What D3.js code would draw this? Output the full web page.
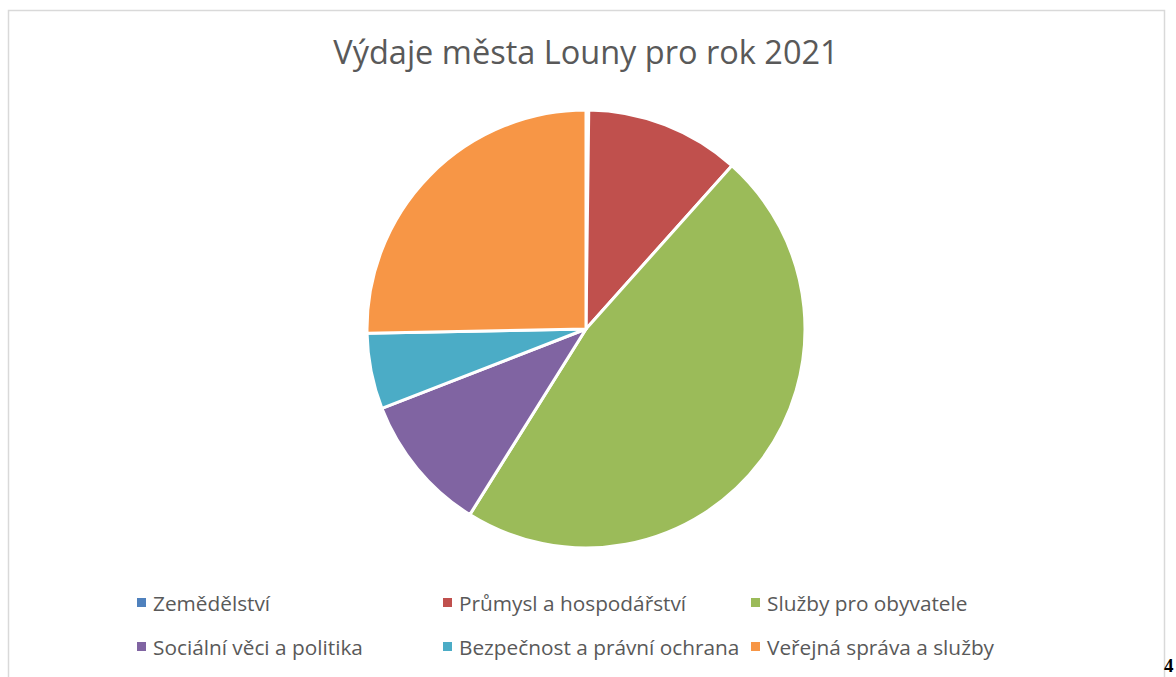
<!DOCTYPE html>
<html>
  <head>
    <meta charset="utf-8">
    <title>Výdaje města Louny pro rok 2021</title>
    <style type="text/css">
      body {
        margin: 0;
        background: #fff;
        font-family: "Open Sans", "Noto Sans", sans-serif;
      }
      svg {
        display: block;
      }
      .title {
        fill: #595959;
        font-size: 32.5px;
      }
      .legend text {
        fill: #595959;
        font-size: 20.8px;
      }
      .page-num {
        font-family: "Liberation Serif", serif;
        font-weight: bold;
        font-size: 19px;
        fill: #000;
      }
    </style>
  </head>
  <body>
    <script src="https://d3js.org/d3.v7.min.js"></script>
    <script>
    // data (share of budget, %)
    var categories = ["Zemědělství", "Průmysl a hospodářství", "Služby pro obyvatele",
                      "Sociální věci a politika", "Bezpečnost a právní ochrana", "Veřejná správa a služby"];
    var values = [0.2, 11.4, 47.3, 10.2, 5.6, 25.3];
    var colors = ["#4f81bd", "#c0504d", "#9bbb59", "#8064a2", "#4bacc6", "#f79646"];
    var titleText = "Výdaje města Louny pro rok 2021";

    var width = 1176, height = 677;
    var cx = 586, cy = 329, radius = 219;

    var data = categories.map(function(c, i) { return {name: c, value: values[i]}; });

    var color = d3.scaleOrdinal()
        .domain(categories)
        .range(colors);

    var svg = d3.select("body").append("svg")
        .attr("width", width)
        .attr("height", height);

    // chart frame
    svg.append("rect")
        .attr("x", 8.5)
        .attr("y", 10.5)
        .attr("width", 1156)
        .attr("height", 700)
        .style("fill", "none")
        .style("stroke", "#d9d9d9")
        .style("stroke-width", 1.5);

    svg.append("text")
        .attr("class", "title")
        .attr("x", cx)
        .attr("y", 64)
        .attr("text-anchor", "middle")
        .text(titleText);

    var pie = d3.pie()
        .sort(null)
        .value(function(d) { return d.value; });

    var arc = d3.arc()
        .innerRadius(0)
        .outerRadius(radius);

    var g = svg.append("g")
        .attr("transform", "translate(" + cx + "," + cy + ")");

    g.selectAll("path")
        .data(pie(data))
        .enter()
        .append("path")
        .attr("d", arc)
        .style("fill", function(d) { return color(d.data.name); })
        .style("stroke", "#fff")
        .style("stroke-width", 3)
        .style("stroke-linejoin", "round");

    // legend, 3 columns x 2 rows
    var colX = [137, 443, 751],
        rowY = [603, 647];

    var legend = svg.append("g")
        .attr("class", "legend")
        .selectAll("g")
        .data(categories)
        .enter()
        .append("g")
        .attr("transform", function(d, i) {
          return "translate(" + colX[i % 3] + "," + rowY[Math.floor(i / 3)] + ")";
        });

    legend.append("rect")
        .attr("x", 0)
        .attr("y", -5)
        .attr("width", 9)
        .attr("height", 9)
        .style("fill", function(d) { return color(d); });

    legend.append("text")
        .attr("x", 16)
        .attr("y", 7.5)
        .text(function(d) { return d; });

    svg.append("text")
        .attr("class", "page-num")
        .attr("x", 1164)
        .attr("y", 672)
        .text("4");
    </script>
  </body>
</html>
